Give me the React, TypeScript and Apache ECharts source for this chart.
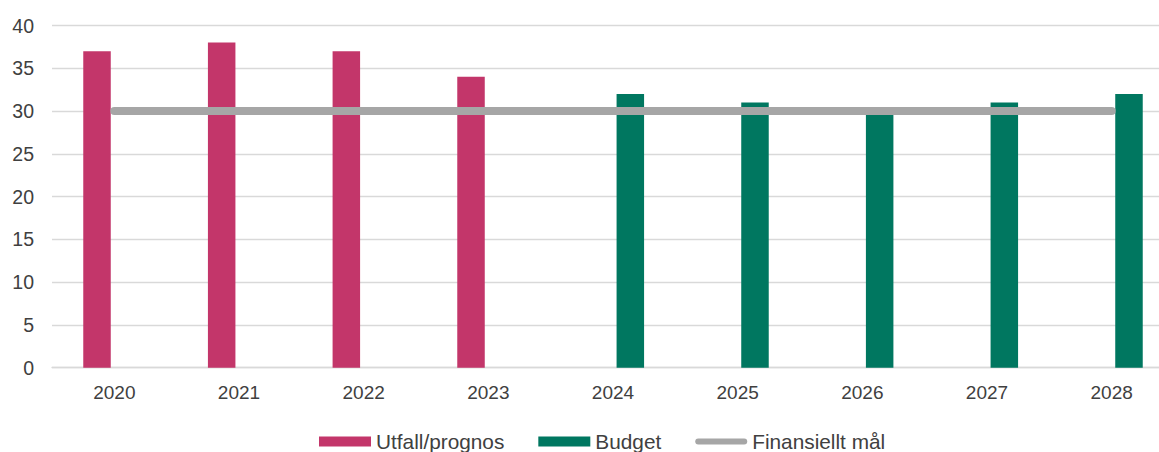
import React, { useEffect, useRef } from "react";
import * as echarts from "echarts";

const categories = ["2020", "2021", "2022", "2023", "2024", "2025", "2026", "2027", "2028"];
const utfallValues = [37, 38, 37, 34, null, null, null, null, null];
const budgetValues = [null, null, null, null, 32, 31, 30, 31, 32];
const malValues = [30, 30, 30, 30, 30, 30, 30, 30, 30];
const seriesNames = ["Utfall/prognos", "Budget", "Finansiellt mål"];

const FONT = "'Liberation Sans', Arial, sans-serif";
const PILL = "path://M3,0 H49 A3,3 0 0 1 49,6 H3 A3,3 0 0 1 3,0 Z";

export default function App() {
  const ref = useRef<HTMLDivElement>(null);
  useEffect(() => {
    if (!ref.current) return;
    const chart = echarts.init(ref.current, undefined, { renderer: "svg" });
    chart.setOption({
      animation: false,
      backgroundColor: "#ffffff",
      textStyle: { fontFamily: FONT },
      grid: { left: 52, right: 1, top: 25.5, bottom: 84.3, containLabel: false },
      legend: {
        left: 314,
        top: 426,
        itemWidth: 52,
        itemHeight: 10,
        itemGap: 34,
        textStyle: { fontFamily: FONT, fontSize: 20.8, color: "#404040" },
        data: [
          { name: seriesNames[0], icon: "rect" },
          { name: seriesNames[1], icon: "rect" },
          { name: seriesNames[2], icon: PILL },
        ],
      },
      xAxis: {
        type: "category",
        data: categories,
        axisLine: { show: true, lineStyle: { color: "#D9D9D9", width: 1.3 } },
        axisTick: { show: false },
        axisLabel: { fontFamily: FONT, fontSize: 19, color: "#404040", margin: 15 },
      },
      yAxis: {
        type: "value",
        min: 0,
        max: 40,
        interval: 5,
        axisLine: { show: false },
        axisTick: { show: false },
        splitLine: { lineStyle: { color: "#D9D9D9", width: 1.3 } },
        axisLabel: { fontFamily: FONT, fontSize: 19.5, color: "#404040", margin: 18 },
      },
      series: [
        {
          name: seriesNames[0],
          type: "bar",
          data: utfallValues,
          barWidth: 27.5,
          barGap: "26%",
          itemStyle: { color: "#C3366A" },
        },
        {
          name: seriesNames[1],
          type: "bar",
          data: budgetValues,
          barWidth: 27.5,
          barGap: "26%",
          itemStyle: { color: "#007760" },
        },
        {
          name: seriesNames[2],
          type: "line",
          data: malValues,
          symbol: "none",
          showSymbol: false,
          z: 5,
          lineStyle: { color: "#A6A6A6", width: 8, cap: "round" },
          itemStyle: { color: "#A6A6A6" },
        },
      ],
    });
    return () => chart.dispose();
  }, []);
  return (
    <div style={{ position: "fixed", left: 0, top: 0, width: 1159, height: 452, overflow: "hidden", background: "#fff" }}>
      <div ref={ref} style={{ position: "absolute", left: 0, top: 0, width: 1175, height: 452 }} />
    </div>
  );
}
